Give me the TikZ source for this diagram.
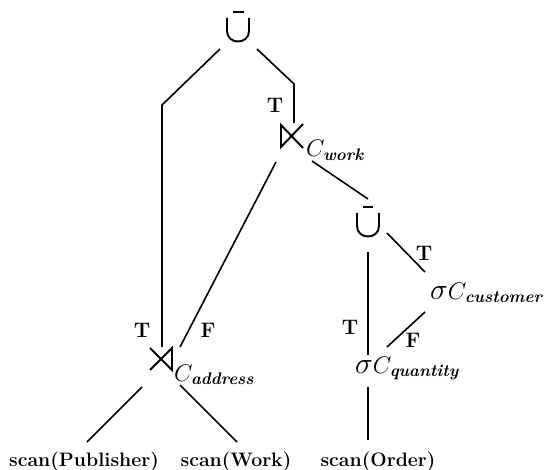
\documentclass[tikz,border=0pt]{standalone}
\usepackage{fix-cm}
\usepackage{amsmath}
\usepackage{fontspec}
\begin{document}
\begin{tikzpicture}[x=1pt,y=-1pt,
  edge/.style={line width=1.6pt},
  sym/.style={line width=1.9pt, line join=miter},
  lbl/.style={font=\bfseries\fontsize{21}{24}\selectfont, inner sep=0pt},
  txt/.style={font=\fontsize{24}{28}\selectfont, inner sep=0pt},
  scanbox/.style={font=\bfseries\fontsize{19.5}{22}\selectfont, inner sep=0pt}]
\useasboundingbox (0,0) rectangle (559,470);
% operator nodes (positions)
\coordinate (U1) at (238,30);
\coordinate (U2) at (368,225);
\coordinate (J1) at (292,136);
\coordinate (J2) at (161,359);
% top U-bar
\draw[sym] (227,18) -- (227,31) .. controls (227,45) and (249,45) .. (249,31) -- (249,18);
\draw[sym] (233,12) -- (244,12);
% second U-bar
\draw[sym] (357,213) -- (357,226) .. controls (357,240) and (379,240) .. (379,226) -- (379,213);
\draw[sym] (363,207) -- (373,207);
% top semijoin
\draw[sym] (303,124) -- (281,147) -- (281,125) -- (303,148);
% left semijoin
\draw[sym] (150,348) -- (172,370) -- (172,348) -- (150,370);
% texts
\node[txt, anchor=base west] (cw) at (306,157) {$C_{\textbf{\textit{work}}}$};
\node[txt, anchor=base west] (ca) at (174,381) {$C_{\textbf{\textit{address}}}$};
\node[txt, anchor=base west] (sc) at (430,299) {$\scalebox{1.25}{$\sigma$}C_{\textbf{\textit{customer}}}$};
\node[txt, anchor=base west] (sq) at (355,373) {$\scalebox{1.25}{$\sigma$}C_{\textbf{\textit{quantity}}}$};
\node[scanbox, anchor=base] (sp) at (84,466) {scan(Publisher)};
\node[scanbox, anchor=base] (sw) at (236,466) {scan(Work)};
\node[scanbox, anchor=base] (so) at (378,466) {scan(Order)};
% edge endpoints
\coordinate (a1) at (220,49); \coordinate (a2) at (162,105); \coordinate (a3) at (162,347);
\coordinate (b1) at (257,49); \coordinate (b2) at (294,84); \coordinate (b3) at (294,123);
\coordinate (c1) at (276,162); \coordinate (c2) at (180,347);
\coordinate (d1) at (312,161); \coordinate (d2) at (368,199);
\coordinate (e1) at (368,252); \coordinate (e2) at (368,355);
\coordinate (f1) at (387,233); \coordinate (f2) at (425,272);
\coordinate (g1) at (425,312); \coordinate (g2) at (387,347);
\coordinate (h1) at (368,387); \coordinate (h2) at (368,440);
\coordinate (i1) at (142,387); \coordinate (i2) at (87,442);
\coordinate (k1) at (180,385); \coordinate (k2) at (237,442);
\draw[edge] (a1) -- (a2) -- (a3);
\draw[edge] (b1) -- (b2) -- (b3);
\draw[edge] (c1) -- (c2);
\draw[edge] (d1) -- (d2);
\draw[edge] (e1) -- (e2);
\draw[edge] (f1) -- (f2);
\draw[edge] (g1) -- (g2);
\draw[edge] (h1) -- (h2);
\draw[edge] (i1) -- (i2);
\draw[edge] (k1) -- (k2);
% labels
\node[lbl] (t1) at (275,105) {T};
\node[lbl] (t2) at (142,330) {T};
\node[lbl] (f1l) at (208,330) {F};
\node[lbl] (t3) at (424,253) {T};
\node[lbl] (t4) at (350,327) {T};
\node[lbl] (f2l) at (413,340) {F};
\end{tikzpicture}
\end{document}
